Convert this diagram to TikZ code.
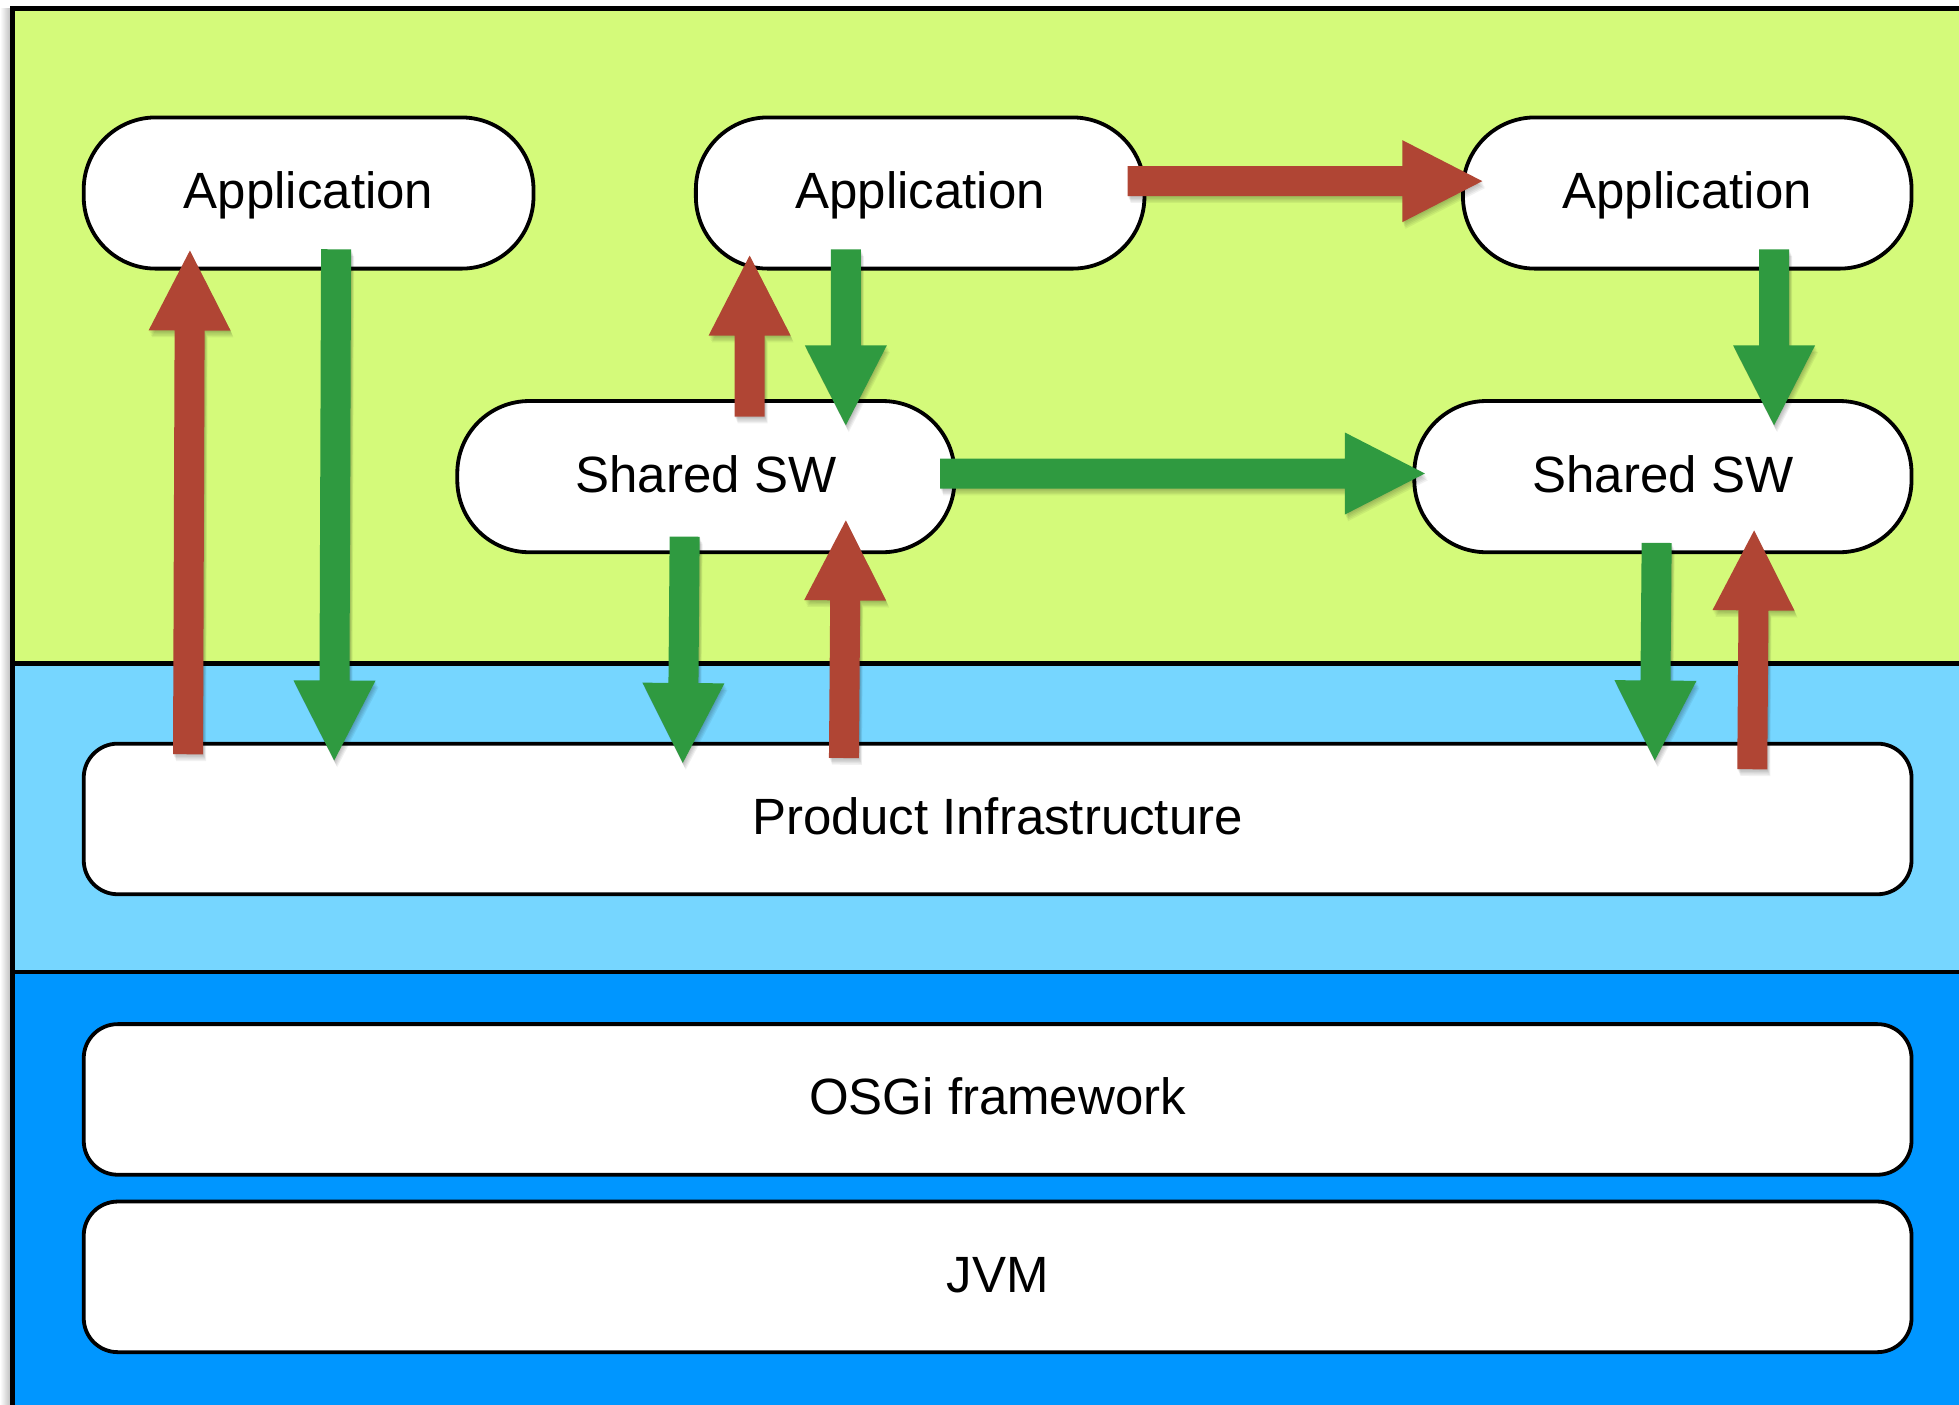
\documentclass[tikz,border=0pt]{standalone}
\usepackage{fontspec}
\setmainfont{Liberation Sans}
\usetikzlibrary{calc}

\definecolor{appbg}{HTML}{D4FA7A}
\definecolor{infrabg}{HTML}{76D6FF}
\definecolor{basebg}{HTML}{0096FF}
\definecolor{callred}{HTML}{B04534}
\definecolor{callgreen}{HTML}{2F9A40}

\tikzset{
  labelfont/.style={font=\fontsize{25.5}{30}\selectfont, text height=15.5pt, text depth=0pt},
  pill/.style={draw, line width=1.9pt, fill=white, rounded corners=36pt,
    minimum height=75.6pt, inner sep=0pt, labelfont},
  layerbox/.style={draw, line width=1.9pt, fill=white, rounded corners=17pt,
    minimum width=913.9pt, minimum height=75.3pt, inner sep=0pt, labelfont},
  band/.style={line width=2.4pt},
  arrowshadow/.style={fill=black, opacity=0.055},
}

% outline of a block arrow from tail #1 to tip #2 (uses coordinate ba-base)
\newcommand\arrowoutline[2]{%
  ($(#1)!7.5pt!90:(#2)$) -- ($(ba-base)!7.5pt!90:(#2)$) --
  ($(ba-base)!20.5pt!90:(#2)$) -- (#2) --
  ($(ba-base)!20.5pt!-90:(#2)$) -- ($(ba-base)!7.5pt!-90:(#2)$) --
  ($(#1)!7.5pt!-90:(#2)$) -- cycle}

% one layer of the soft shadow under an arrow
\newcommand\shadowlayer[4]{%
  \begin{scope}[transform canvas={shift={(#3,#4)}}]
    \fill[arrowshadow] \arrowoutline{#1}{#2};
  \end{scope}}

% block arrow with a soft drop shadow: #1 colour, #2 tail, #3 tip
\newcommand\blockarrow[3]{%
  \coordinate (ba-base) at ($(#3)!40pt!(#2)$);
  \shadowlayer{#2}{#3}{0.3pt}{-0.6pt}
  \shadowlayer{#2}{#3}{0.6pt}{-1.3pt}
  \shadowlayer{#2}{#3}{0.9pt}{-2.0pt}
  \shadowlayer{#2}{#3}{1.2pt}{-2.7pt}
  \shadowlayer{#2}{#3}{1.5pt}{-3.4pt}
  \fill[#1] \arrowoutline{#2}{#3};
}

\begin{document}
\begin{tikzpicture}[x=0.6247pt, y=-0.6247pt]
  \useasboundingbox (0,0) rectangle (1568,1124);
  \clip (0,0) rectangle (1568,1124);

  % page and layer bands
  \fill[white] (0,0) rectangle (1568,1124);
  \shade[left color=white, right color=black!30] (0,7) rectangle (10,1124);
  \fill[appbg] (10,7) rectangle (1575,531);
  \fill[infrabg] (10,531) rectangle (1575,778);
  \fill[basebg] (10,778) rectangle (1575,1130);
  \draw[band] (1575,7) -- (10,7) -- (10,1130);
  \draw[band] (10,531) -- (1575,531);
  \draw[band] (10,778) -- (1575,778);

  % components
  \node[pill, minimum width=224.9pt] (app1) at (247,154.5) {Application};
  \node[pill, minimum width=224.3pt] (app2) at (736.5,154.5) {Application};
  \node[pill, minimum width=224.3pt] (app3) at (1350.5,154.5) {Application};
  \node[pill, minimum width=248.6pt] (sw1) at (565,381.5) {Shared SW};
  \node[pill, minimum width=248.6pt] (sw2) at (1331,381.5) {Shared SW};

  \node[layerbox] (infra) at (798.5,655.5) {Product Infrastructure};
  \node[layerbox] (osgi) at (798.5,880) {OSGi framework};
  \node[layerbox] (jvm) at (798.5,1022) {JVM};

  % arrow end points
  \coordinate (r1a) at ($(infra.north west)+(85,10)$);
  \coordinate (r1b) at ($(app1.south)+(-95,-16)$);
  \coordinate (g1a) at ($(app1.south)+(22,-17)$);
  \coordinate (g1b) at ($(infra.north west)+(202,15)$);

  \coordinate (r2a) at ($(sw1.north)+(35,14)$);
  \coordinate (r2b) at ($(app2.south)+(-136.5,-12)$);
  \coordinate (g2a) at ($(app2.south)+(-59.5,-17)$);
  \coordinate (g2b) at ($(sw1.north)+(112,21)$);

  \coordinate (r3a) at ($(app2.east)+(-15,-9.5)$);
  \coordinate (r3b) at ($(app3.west)+(17,-9.5)$);
  \coordinate (g3a) at ($(sw1.east)+(-13,-2.5)$);
  \coordinate (g3b) at ($(sw2.west)+(10,-2.5)$);

  \coordinate (g4a) at ($(sw1.south)+(-17,-14)$);
  \coordinate (g4b) at ($(infra.north west)+(481,17)$);
  \coordinate (r4a) at ($(infra.north west)+(610,13)$);
  \coordinate (r4b) at ($(sw1.south)+(112,-27)$);

  \coordinate (g5a) at ($(app3.south)+(69.5,-17)$);
  \coordinate (g5b) at ($(sw2.north)+(89,21)$);
  \coordinate (g6a) at ($(sw2.south)+(-5,-9)$);
  \coordinate (g6b) at ($(infra.north west)+(1259,15)$);
  \coordinate (r5a) at ($(infra.north west)+(1337,22)$);
  \coordinate (r5b) at ($(sw2.south)+(73,-19)$);

  % calls (red) and returns (green)
  \blockarrow{callred}{r1a}{r1b}
  \blockarrow{callgreen}{g1a}{g1b}
  \blockarrow{callred}{r2a}{r2b}
  \blockarrow{callgreen}{g2a}{g2b}
  \blockarrow{callred}{r3a}{r3b}
  \blockarrow{callgreen}{g3a}{g3b}
  \blockarrow{callgreen}{g4a}{g4b}
  \blockarrow{callred}{r4a}{r4b}
  \blockarrow{callgreen}{g5a}{g5b}
  \blockarrow{callgreen}{g6a}{g6b}
  \blockarrow{callred}{r5a}{r5b}
\end{tikzpicture}
\end{document}
